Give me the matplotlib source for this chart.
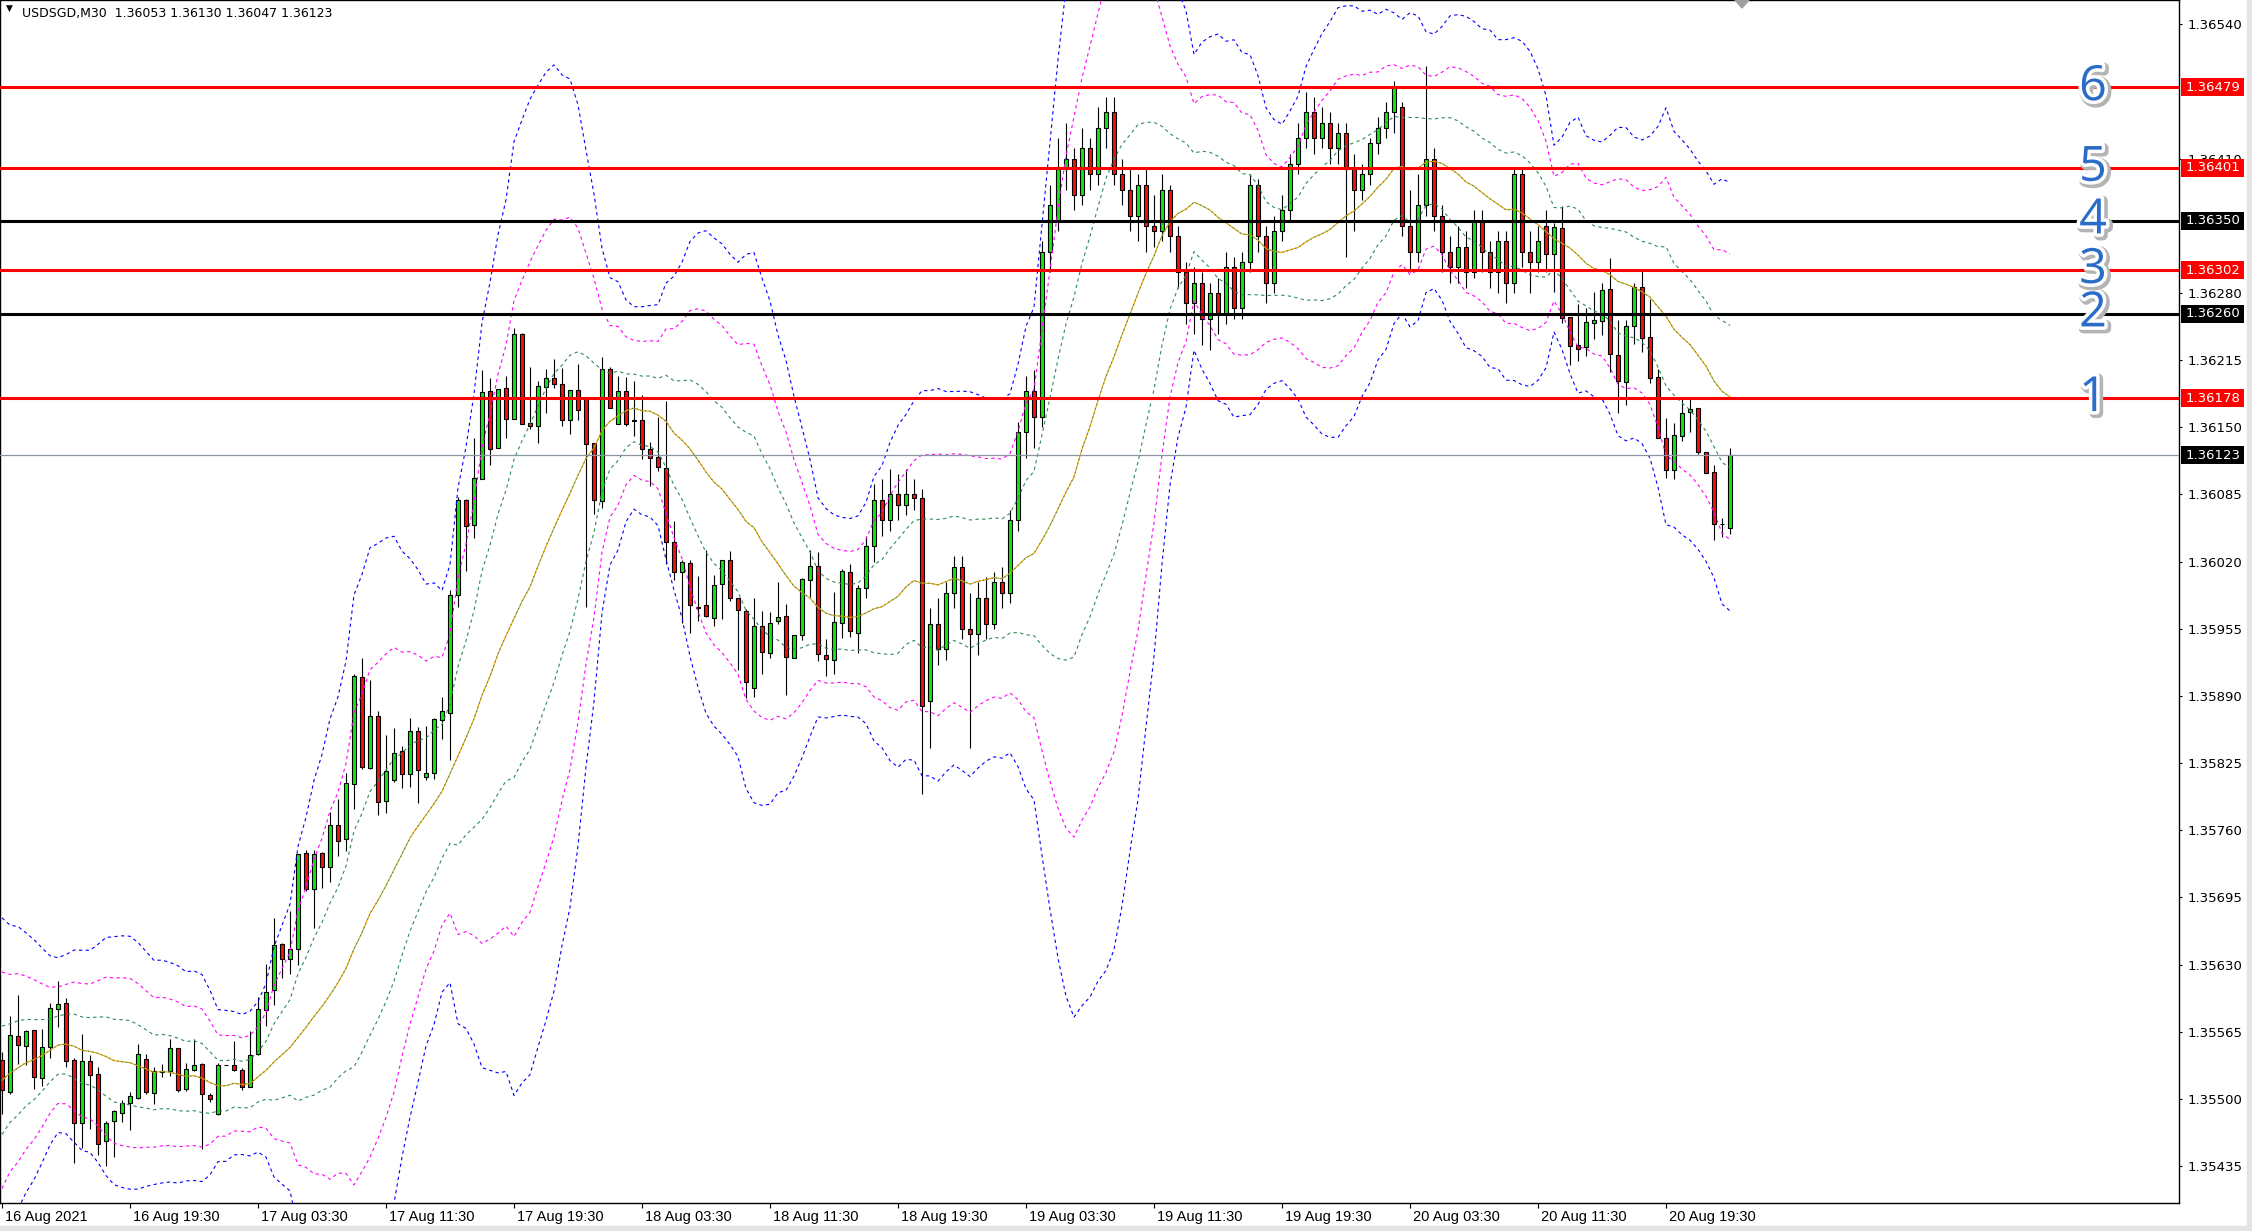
import numpy as np
import pandas as pd
import matplotlib
matplotlib.use('Agg')
import matplotlib.pyplot as plt
import matplotlib.patheffects as pe
from matplotlib.patches import Polygon, Rectangle
from matplotlib.transforms import ScaledTranslation

# USDSGD M30, 16 Aug 11:30 .. 20 Aug 23:30 (217 bars)
opens = [
    1.35538, 1.35507, 1.35561, 1.35551, 1.35567, 1.35520, 1.35550, 1.35587, 1.35593, 1.35538,
    1.35477, 1.35537, 1.35524, 1.35459, 1.35479, 1.35486, 1.35496, 1.35501, 1.35539, 1.35506,
    1.35526, 1.35527, 1.35549, 1.35510, 1.35528, 1.35534, 1.35504, 1.35485, 1.35533, 1.35533,
    1.35528, 1.35511, 1.35543, 1.35586, 1.35605, 1.35650, 1.35635, 1.35645, 1.35738, 1.35703,
    1.35738, 1.35724, 1.35765, 1.35752, 1.35805, 1.35908, 1.35820, 1.35871, 1.35788, 1.35809,
    1.35837, 1.35814, 1.35856, 1.35812, 1.35815, 1.35867, 1.35873, 1.35988, 1.36080, 1.36055,
    1.36100, 1.36185, 1.36130, 1.36188, 1.36158, 1.36240, 1.36154, 1.36151, 1.36189, 1.36198,
    1.36192, 1.36157, 1.36186, 1.36177, 1.36135, 1.36079, 1.36206, 1.36153, 1.36185, 1.36157,
    1.36157, 1.36129, 1.36121, 1.36111, 1.36039, 1.36010, 1.36019, 1.35976, 1.35978, 1.35965,
    1.35998, 1.36022, 1.35985, 1.35972, 1.35898, 1.35958, 1.35932, 1.35963, 1.35967, 1.35927,
    1.35949, 1.36002, 1.36016, 1.35930, 1.35925, 1.35961, 1.36010, 1.35951,
    1.35994, 1.36035, 1.36080, 1.36060, 1.36085, 1.36075, 1.36085, 1.36082, 1.35885, 1.35960,
    1.35935, 1.35990, 1.36015, 1.35955, 1.35950, 1.35985, 1.35960, 1.36000, 1.35990, 1.36060,
    1.36145, 1.36185, 1.36160, 1.36320, 1.36350, 1.36400, 1.36410, 1.36375, 1.36420, 1.36395,
    1.36440, 1.36455, 1.36395, 1.36380, 1.36355, 1.36385, 1.36345, 1.36340, 1.36380, 1.36335,
    1.36300, 1.36270, 1.36290, 1.36255, 1.36280, 1.36260, 1.36305, 1.36265, 1.36310, 1.36385,
    1.36335, 1.36290, 1.36340, 1.36360, 1.36405, 1.36430, 1.36455, 1.36430, 1.36445, 1.36420,
    1.36435, 1.36400, 1.36380, 1.36395, 1.36425, 1.36440, 1.36455, 1.36460, 1.36345, 1.36320,
    1.36365, 1.36410, 1.36355, 1.36320, 1.36305, 1.36325, 1.36300, 1.36350, 1.36320, 1.36300,
    1.36330, 1.36290, 1.36395, 1.36320, 1.36310, 1.36345,
    1.36318, 1.36343, 1.36257, 1.36230, 1.36228, 1.36251, 1.36253, 1.36284, 1.36220, 1.36194,
    1.36248, 1.36286, 1.36237, 1.36199, 1.36140, 1.36109, 1.36142, 1.36165, 1.36169, 1.36126,
    1.36107, 1.36056, 1.36053]
highs = [
    1.35545, 1.35580, 1.35601, 1.35567, 1.35567, 1.35568, 1.35593, 1.35614, 1.35598, 1.35540,
    1.35563, 1.35542, 1.35531, 1.35479, 1.35489, 1.35499, 1.35507, 1.35553, 1.35543, 1.35531,
    1.35534, 1.35558, 1.35549, 1.35535, 1.35558, 1.35535, 1.35506, 1.35535, 1.35533, 1.35556,
    1.35530, 1.35566, 1.35599, 1.35631, 1.35675, 1.35651, 1.35682, 1.35737, 1.35741, 1.35741,
    1.35739, 1.35778, 1.35790, 1.35815, 1.35911, 1.35927, 1.35905, 1.35875, 1.35852, 1.35859,
    1.35842, 1.35869, 1.35860, 1.35861, 1.35869, 1.35889, 1.35993, 1.36083, 1.36081, 1.36140,
    1.36205, 1.36198, 1.36187, 1.36200, 1.36246, 1.36241, 1.36208, 1.36195, 1.36206, 1.36216,
    1.36207, 1.36186, 1.36211, 1.36177, 1.36135, 1.36218, 1.36208, 1.36200, 1.36199, 1.36195,
    1.36181, 1.36136, 1.36160, 1.36175, 1.36059, 1.36022, 1.36022, 1.36006, 1.36031, 1.36007,
    1.36022, 1.36030, 1.35985, 1.35974, 1.35985, 1.35972, 1.35971, 1.36000, 1.35979, 1.35949,
    1.36004, 1.36031, 1.36029, 1.35945, 1.35991, 1.36013, 1.36018, 1.35997,
    1.36045, 1.36095, 1.36100, 1.36110, 1.36105, 1.36110, 1.36100, 1.36090, 1.35975, 1.35985,
    1.36000, 1.36025, 1.36025, 1.35990, 1.36000, 1.36005, 1.36010, 1.36015, 1.36070, 1.36155,
    1.36200, 1.36205, 1.36330, 1.36385, 1.36430, 1.36445, 1.36420, 1.36440, 1.36430, 1.36460,
    1.36470, 1.36470, 1.36410, 1.36400, 1.36395, 1.36400, 1.36375, 1.36395, 1.36385, 1.36345,
    1.36310, 1.36305, 1.36300, 1.36290, 1.36295, 1.36320, 1.36315, 1.36320, 1.36395, 1.36390,
    1.36345, 1.36355, 1.36375, 1.36415, 1.36445, 1.36475, 1.36470, 1.36460, 1.36455, 1.36445,
    1.36445, 1.36415, 1.36405, 1.36430, 1.36450, 1.36465, 1.36485, 1.36465, 1.36380, 1.36395,
    1.36500, 1.36420, 1.36365, 1.36335, 1.36345, 1.36340, 1.36360, 1.36360, 1.36330, 1.36340,
    1.36340, 1.36400, 1.36400, 1.36340, 1.36345, 1.36360,
    1.36348, 1.36364, 1.36257, 1.36269, 1.36265, 1.36281, 1.36290, 1.36314, 1.36254, 1.36254,
    1.36290, 1.36301, 1.36274, 1.36206, 1.36159, 1.36154, 1.36177, 1.36177, 1.36169, 1.36126,
    1.36114, 1.36062, 1.36130]
lows = [
    1.35485, 1.35505, 1.35534, 1.35533, 1.35510, 1.35512, 1.35540, 1.35570, 1.35531, 1.35438,
    1.35452, 1.35471, 1.35446, 1.35435, 1.35444, 1.35478, 1.35470, 1.35500, 1.35505, 1.35495,
    1.35521, 1.35522, 1.35507, 1.35508, 1.35527, 1.35451, 1.35497, 1.35484, 1.35533, 1.35527,
    1.35509, 1.35511, 1.35542, 1.35571, 1.35591, 1.35617, 1.35621, 1.35630, 1.35701, 1.35665,
    1.35704, 1.35710, 1.35735, 1.35740, 1.35781, 1.35819, 1.35819, 1.35775, 1.35777, 1.35807,
    1.35801, 1.35802, 1.35786, 1.35809, 1.35810, 1.35848, 1.35828, 1.35976, 1.36011, 1.36043,
    1.36100, 1.36114, 1.36130, 1.36140, 1.36158, 1.36153, 1.36148, 1.36135, 1.36164, 1.36188,
    1.36151, 1.36144, 1.36157, 1.35976, 1.36066, 1.36072, 1.36169, 1.36153, 1.36151, 1.36142,
    1.36119, 1.36093, 1.36108, 1.36018, 1.36002, 1.35961, 1.35951, 1.35963, 1.35966, 1.35958,
    1.35964, 1.35982, 1.35915, 1.35888, 1.35889, 1.35911, 1.35927, 1.35960, 1.35891, 1.35927,
    1.35944, 1.35986, 1.35924, 1.35909, 1.35911, 1.35946, 1.35947, 1.35932,
    1.35985, 1.36020, 1.36045, 1.36050, 1.36060, 1.36065, 1.36070, 1.35795, 1.35840, 1.35920,
    1.35925, 1.35975, 1.35945, 1.35840, 1.35930, 1.35945, 1.35955, 1.35975, 1.35980, 1.36050,
    1.36120, 1.36130, 1.36150, 1.36300, 1.36340, 1.36380, 1.36360, 1.36365, 1.36380, 1.36385,
    1.36420, 1.36385, 1.36365, 1.36340, 1.36330, 1.36320, 1.36325, 1.36330, 1.36320, 1.36285,
    1.36250, 1.36240, 1.36230, 1.36225, 1.36240, 1.36250, 1.36255, 1.36255, 1.36300, 1.36320,
    1.36270, 1.36280, 1.36330, 1.36350, 1.36395, 1.36420, 1.36415, 1.36420, 1.36405, 1.36405,
    1.36315, 1.36340, 1.36370, 1.36385, 1.36415, 1.36430, 1.36435, 1.36335, 1.36300, 1.36310,
    1.36355, 1.36340, 1.36300, 1.36290, 1.36290, 1.36285, 1.36295, 1.36300, 1.36285, 1.36280,
    1.36270, 1.36280, 1.36305, 1.36280, 1.36300, 1.36300,
    1.36281, 1.36251, 1.36210, 1.36214, 1.36219, 1.36235, 1.36239, 1.36204, 1.36164, 1.36172,
    1.36231, 1.36223, 1.36193, 1.36140, 1.36101, 1.36100, 1.36137, 1.36145, 1.36124, 1.36106,
    1.36041, 1.36044, 1.36047]
closes = [
    1.35509, 1.35562, 1.35552, 1.35566, 1.35521, 1.35550, 1.35588, 1.35592, 1.35537, 1.35477,
    1.35537, 1.35523, 1.35456, 1.35477, 1.35488, 1.35496, 1.35503, 1.35543, 1.35507, 1.35527,
    1.35527, 1.35549, 1.35509, 1.35529, 1.35533, 1.35505, 1.35500, 1.35533, 1.35533, 1.35528,
    1.35511, 1.35542, 1.35587, 1.35603, 1.35649, 1.35635, 1.35645, 1.35737, 1.35703, 1.35737,
    1.35724, 1.35765, 1.35750, 1.35806, 1.35909, 1.35821, 1.35871, 1.35787, 1.35817, 1.35835,
    1.35814, 1.35856, 1.35818, 1.35815, 1.35868, 1.35875, 1.35988, 1.36080, 1.36054, 1.36101,
    1.36184, 1.36129, 1.36187, 1.36158, 1.36240, 1.36153, 1.36151, 1.36190, 1.36198, 1.36192,
    1.36157, 1.36186, 1.36167, 1.36134, 1.36080, 1.36206, 1.36169, 1.36185, 1.36153, 1.36156,
    1.36129, 1.36120, 1.36112, 1.36039, 1.36010, 1.36020, 1.35978, 1.35975, 1.35967, 1.35997,
    1.36022, 1.35985, 1.35973, 1.35903, 1.35958, 1.35933, 1.35961, 1.35966, 1.35928, 1.35949,
    1.36003, 1.36016, 1.35931, 1.35926, 1.35962, 1.36011, 1.35953, 1.35994,
    1.36035, 1.36080, 1.36060, 1.36085, 1.36075, 1.36085, 1.36082, 1.35880, 1.35960, 1.35935,
    1.35990, 1.36015, 1.35955, 1.35950, 1.35985, 1.35960, 1.36000, 1.35990, 1.36060, 1.36145,
    1.36185, 1.36160, 1.36320, 1.36365, 1.36400, 1.36410, 1.36375, 1.36420, 1.36395, 1.36440,
    1.36455, 1.36395, 1.36380, 1.36355, 1.36385, 1.36345, 1.36340, 1.36380, 1.36335, 1.36300,
    1.36270, 1.36290, 1.36255, 1.36280, 1.36260, 1.36305, 1.36265, 1.36310, 1.36385, 1.36335,
    1.36290, 1.36340, 1.36360, 1.36405, 1.36430, 1.36455, 1.36430, 1.36445, 1.36420, 1.36435,
    1.36400, 1.36380, 1.36395, 1.36425, 1.36440, 1.36455, 1.36479, 1.36345, 1.36320, 1.36365,
    1.36410, 1.36355, 1.36320, 1.36305, 1.36325, 1.36300, 1.36350, 1.36320, 1.36300, 1.36330,
    1.36290, 1.36395, 1.36320, 1.36310, 1.36330, 1.36318,
    1.36344, 1.36256, 1.36229, 1.36226, 1.36252, 1.36254, 1.36283, 1.36221, 1.36195, 1.36248,
    1.36286, 1.36236, 1.36198, 1.36140, 1.36109, 1.36143, 1.36164, 1.36168, 1.36126, 1.36106,
    1.36056, 1.36056, 1.36123]

# bollinger middle / stdev for the first 19 bars (their window starts before the chart)
bb_mid_head = [1.35518, 1.35525, 1.35530, 1.35535, 1.35538, 1.35542, 1.35547, 1.35552, 1.35553, 1.35551,
               1.35547, 1.35546, 1.35544, 1.35541, 1.35537, 1.35536, 1.35535, 1.35532, 1.35529]
bb_sd_head = [0.000524, 0.000477, 0.000456, 0.000419, 0.000387, 0.000347, 0.000305, 0.000282, 0.000289, 0.000310,
              0.000323, 0.000326, 0.000352, 0.000384, 0.000400, 0.000406, 0.000408, 0.000398, 0.000379]

time_labels = ['16 Aug 2021', '16 Aug 19:30', '17 Aug 03:30', '17 Aug 11:30', '17 Aug 19:30',
               '18 Aug 03:30', '18 Aug 11:30', '18 Aug 19:30', '19 Aug 03:30', '19 Aug 11:30',
               '19 Aug 19:30', '20 Aug 03:30', '20 Aug 11:30', '20 Aug 19:30']
price_ticks = [1.36540, 1.36410, 1.36280, 1.36215, 1.36150, 1.36085, 1.36020, 1.35955, 1.35890,
               1.35825, 1.35760, 1.35695, 1.35630, 1.35565, 1.35500, 1.35435]

# drawn levels
level_prices = [1.36178, 1.36260, 1.36302, 1.36350, 1.36401, 1.36479]
level_colors = ['#ff0000', '#000000', '#ff0000', '#000000', '#ff0000', '#ff0000']
level_names = ['1', '2', '3', '4', '5', '6']
last_price = 1.36123

o = np.array(opens)
h = np.array(highs)
l = np.array(lows)
c = np.array(closes)
x = np.arange(len(c))

# bollinger bands 20 on close
cs = pd.Series(c)
mid = cs.rolling(20).mean().to_numpy()
sd = cs.rolling(20).std(ddof=0).to_numpy()
mid[:19] = bb_mid_head
sd[:19] = bb_sd_head

W, H = 2252, 1231
AXW = 2179          # plot area width in px
fig = plt.figure(figsize=(W / 100, H / 100), dpi=100)
fig.patch.set_facecolor('white')
ax = fig.add_axes([0, 28 / H, AXW / W, 1203 / H])
ax.set_facecolor('white')

# candles
ax.vlines(x, l, h, color='black', lw=0.8, zorder=2)
bot = np.minimum(o, c)
bh = np.abs(c - o)
bh = np.where(bh < 2e-7, 2e-7, bh)
cols = np.where(c >= o, '#14e614', '#f01010')
ax.bar(x, bh, width=0.62, bottom=bot, color=cols, edgecolor='black', linewidth=0.8, zorder=2.1)

# bands
dots = (0, (3, 3))
ax.plot(x, mid, color='#e0a000', lw=0.8, zorder=3)
ax.plot(x, mid, color='#2e8b57', lw=0.8, ls=(0, (1, 3)), zorder=3.1)
for k, col in [(1, '#2e8b57'), (2, '#ff00ff'), (3, '#0000ff')]:
    ax.plot(x, mid + k * sd, color=col, lw=0.8, ls=dots, zorder=3)
    ax.plot(x, mid - k * sd, color=col, lw=0.8, ls=dots, zorder=3)

# horizontal levels
ax.axhline(last_price, color='#8c96a0', lw=0.9, zorder=3.5)
for p, col in zip(level_prices, level_colors):
    ax.axhline(p, color=col, lw=2.2, zorder=4)

ax.set_xlim(-0.25, (AXW - 2) / 8)
ax.set_ylim(1.353992, 1.365636)

for sp in ax.spines.values():
    sp.set_color('black')
    sp.set_linewidth(1.0)

ax.yaxis.tick_right()
ax.set_yticks(price_ticks)
ax.set_yticklabels(['%.5f' % p for p in price_ticks], fontsize=9.5, family='DejaVu Sans')
ax.tick_params(axis='y', direction='out', length=2.5, width=0.8, pad=3.5)

ax.set_xticks(np.arange(0, len(c), 16)[:len(time_labels)])
ax.set_xticklabels(time_labels, ha='left', fontsize=10.5, family='Liberation Sans')
ax.tick_params(axis='x', direction='out', length=3.5, width=0.8, pad=1.5)
for lab in ax.get_xticklabels():
    lab.set_transform(lab.get_transform() + ScaledTranslation(3 / 100, 0, fig.dpi_scale_trans))

# price boxes on the right scale
tr = ax.get_yaxis_transform()
box_h = 18 / 103330
for p, col in zip(level_prices + [last_price], level_colors + ['#000000']):
    ax.add_patch(Rectangle((1 + 2 / AXW, p - box_h / 2), 63 / AXW, box_h, transform=tr,
                           facecolor=col, edgecolor='none', clip_on=False, zorder=5))
    ax.text(1 + 7 / AXW, p, '%.5f' % p, transform=tr, ha='left', va='center', fontsize=9.5,
            color='white', clip_on=False, zorder=6)

# level numbers
fx = [pe.Stroke(linewidth=7, foreground='#b4b4b4', offset=(1.5, -1.5)),
      pe.Stroke(linewidth=5, foreground='white'), pe.Normal()]
for p, n in zip(level_prices, level_names):
    ax.text((2093 - 2) / 8, p, n, ha='center', va='center', fontsize=35,
            family='Open Sans', color='#2a6cc8', path_effects=fx, zorder=5)

# header
fig.text(6 / W, 1 - 8 / H, '\u25bc', fontsize=6.5, va='center', ha='left', color='black')
fig.text(22 / W, 1 - 13 / H, 'USDSGD,M30  1.36053 1.36130 1.36047 1.36123',
         fontsize=9, va='center', ha='left', color='black')

# shift marker at the top and window frame
fig.add_artist(Polygon([[1735 / W, 1], [1749 / W, 1], [1742 / W, 1 - 8 / H]],
                       closed=True, color='#a0a0a0', transform=fig.transFigure))
fig.add_artist(Rectangle((2247 / W, 0), 5 / W, 1, color='#e4e4e4', transform=fig.transFigure))
fig.add_artist(Rectangle((0, 0), 1, 5 / H, color='#e4e4e4', transform=fig.transFigure))

fig.savefig('out.png', dpi=100, facecolor='white')
